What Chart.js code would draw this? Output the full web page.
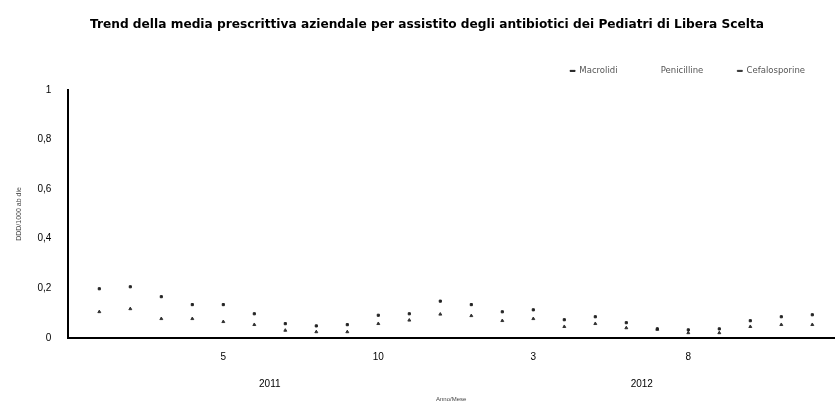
<!DOCTYPE html>
<html>
<head>
<meta charset="utf-8">
<script src="https://cdn.jsdelivr.net/npm/chart.js@4.4.1/dist/chart.umd.min.js"></script>
<style>
  html, body { margin: 0; padding: 0; background: #fff; }
  #wrap { width: 839px; height: 403px; }
</style>
</head>
<body>
<div id="wrap"><canvas id="trendChart"></canvas></div>
<script>
// Months 1..24 (Jan 2011 - Dec 2012)
const months = [1, 2, 3, 4, 5, 6, 7, 8, 9, 10, 11, 12, 13, 14, 15, 16, 17, 18, 19, 20, 21, 22, 23, 24];
const monthTickLabels = { 5: '5', 10: '10', 15: '3', 20: '8' };
const years = ['2011', '2012'];
const yearCenters = [6.5, 18.5];

// values
const macrolidi = [0.198, 0.206, 0.166, 0.134, 0.134, 0.097, 0.057, 0.048, 0.053, 0.091, 0.097, 0.148,
                   0.134, 0.105, 0.113, 0.073, 0.085, 0.061, 0.036, 0.032, 0.036, 0.069, 0.085, 0.093];
const penicilline = [];
const cefalosporine = [0.105, 0.117, 0.077, 0.077, 0.065, 0.053, 0.030, 0.024, 0.024, 0.057, 0.071, 0.095,
                       0.089, 0.069, 0.077, 0.045, 0.057, 0.040, 0.034, 0.020, 0.020, 0.045, 0.053, 0.053];

function toPoints(values) {
    return values.map((v, i) => ({ x: months[i], y: v }));
}

// extra room under the legend
const legendGap = {
    id: 'legendGap',
    beforeInit(chart) {
        const fit = chart.legend.fit;
        chart.legend.fit = function () {
            fit.bind(chart.legend)();
            this.height += 5;
        };
    }
};

const ctx = document.getElementById('trendChart').getContext('2d');
new Chart(ctx, {
    type: 'scatter',
    data: {
        datasets: [
            {
                label: 'Macrolidi',
                data: toPoints(macrolidi),
                backgroundColor: '#222',
                borderColor: '#222',
                pointStyle: 'rect',
                pointRadius: 1.5,
                borderWidth: 1
            },
            {
                label: 'Penicilline',
                data: toPoints(penicilline),
                backgroundColor: '#fff',
                borderColor: '#fff',
                pointRadius: 1.5
            },
            {
                label: 'Cefalosporine',
                data: toPoints(cefalosporine),
                backgroundColor: '#333',
                borderColor: '#333',
                pointStyle: 'triangle',
                pointRadius: 1.7,
                borderWidth: 1
            }
        ]
    },
    plugins: [legendGap],
    options: {
        responsive: true,
        maintainAspectRatio: false,
        animation: false,
        layout: { padding: { left: 15, right: 0, top: 6, bottom: 0 } },
        plugins: {
            tooltip: { enabled: false },
            title: {
                display: true,
                text: 'Trend della media prescrittiva aziendale per assistito degli antibiotici dei Pediatri di Libera Scelta',
                color: '#000',
                font: { family: 'DejaVu Sans', size: 12.2, weight: 'bold' },
                padding: { top: 12, bottom: 0 }
            },
            legend: {
                position: 'top',
                align: 'end',
                labels: {
                    color: '#555',
                    font: { family: 'DejaVu Sans', size: 8.5 },
                    boxWidth: 5,
                    boxHeight: 1,
                    padding: 34
                }
            }
        },
        scales: {
            x: {
                type: 'linear',
                min: 0,
                max: 24.7,
                grid: { display: false, drawTicks: false },
                border: { color: '#000', width: 2 },
                afterBuildTicks: axis => {
                    axis.ticks = [5, 10, 15, 20].map(v => ({ value: v }));
                },
                ticks: {
                    color: '#000',
                    font: { family: 'Liberation Sans', size: 10 },
                    padding: 13,
                    autoSkip: false,
                    maxRotation: 0,
                    callback: value => monthTickLabels[value] || ''
                }
            },
            x2: {
                type: 'linear',
                position: 'bottom',
                min: 0,
                max: 24.7,
                grid: { display: false, drawTicks: false },
                border: { display: false },
                afterBuildTicks: axis => {
                    axis.ticks = yearCenters.map(v => ({ value: v }));
                },
                ticks: {
                    color: '#000',
                    font: { family: 'Liberation Sans', size: 10 },
                    padding: 2,
                    autoSkip: false,
                    maxRotation: 0,
                    callback: (value, index) => years[index]
                },
                title: {
                    display: true,
                    text: 'Anno/Mese',
                    color: '#444',
                    font: { family: 'Liberation Sans', size: 6 },
                    padding: { top: 4, bottom: 0 }
                }
            },
            y: {
                min: 0,
                max: 1,
                grid: { display: false, drawTicks: true, tickLength: 3, tickColor: '#888' },
                border: { color: '#000', width: 2 },
                ticks: {
                    stepSize: 0.2,
                    color: '#000',
                    font: { family: 'Liberation Sans', size: 10 },
                    padding: 14,
                    callback: value => String(Math.round(value * 10) / 10).replace('.', ',')
                },
                title: {
                    display: true,
                    text: 'DDD/1000 ab die',
                    color: '#444',
                    font: { family: 'Liberation Sans', size: 7 },
                    padding: { top: 0, bottom: 0 }
                }
            }
        }
    }
});
</script>
</body>
</html>
